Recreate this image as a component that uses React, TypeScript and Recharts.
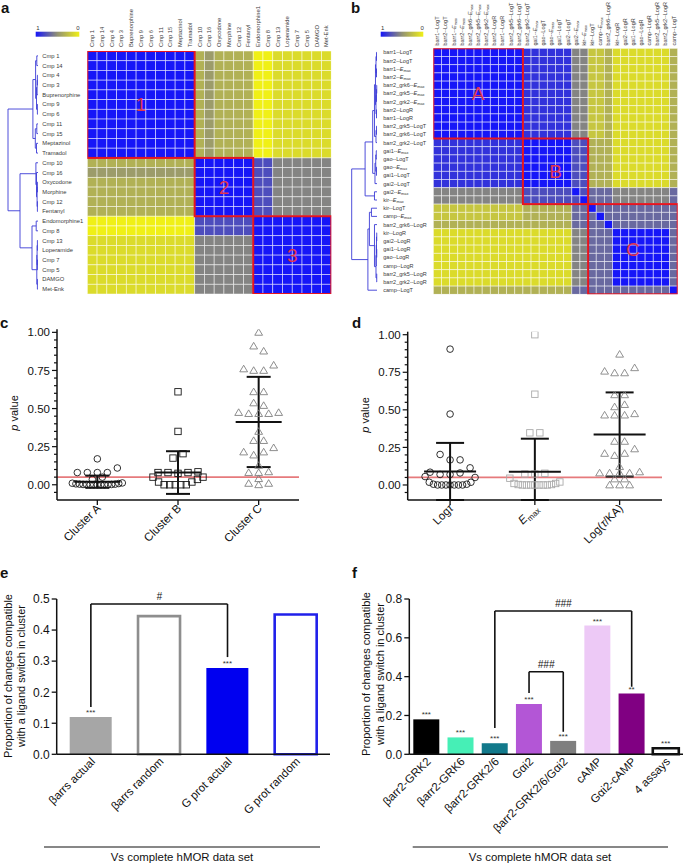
import React from "react";
import {
  ScatterChart,
  Scatter,
  XAxis,
  YAxis,
  ReferenceLine,
  ErrorBar,
  BarChart,
  Bar,
  Cell,
  LabelList,
} from "recharts";

const FONT = '"Liberation Sans", Arial, Helvetica, sans-serif';
const INK = "#111";

// ---------- panel a: compound similarity heatmap ----------
const A_LABELS = [
  "Cmp 1", "Cmp 14", "Cmp 4", "Cmp 3", "Buprenorphine", "Cmp 9", "Cmp 6", "Cmp 11",
  "Cmp 15", "Meptazinol", "Tramadol", "Cmp 10", "Cmp 16", "Oxycodone", "Morphine",
  "Cmp 12", "Fentanyl", "Endomorphine1", "Cmp 8", "Cmp 13", "Loperamide", "Cmp 7",
  "Cmp 5", "DAMGO", "Met-Enk",
];
// one string per row, one digit per cell: 9 = blue (1), 0 = yellow (0)
const A_MATRIX = [
  "9999999999934333300111111",
  "9999999999934333300111111",
  "9999999999934333300111111",
  "9999999999934333300111111",
  "9999999999934333300111111",
  "9999999999934333300111111",
  "9999999999934333300111111",
  "9999999999934333300111111",
  "9999999999934333300111111",
  "9999999999934333300111111",
  "9999999999934333300111111",
  "3333333333399999977555555",
  "4444444444499999977555555",
  "3333333333399999977555555",
  "3333333333399999977555555",
  "3333333333399999977555555",
  "3333333333399999977555555",
  "0000000000077777799999999",
  "0000000000077777799999999",
  "1111111111155555599999999",
  "1111111111155555599999999",
  "1111111111155555599999999",
  "1111111111155555599999999",
  "1111111111155555599999999",
  "1111111111155555599999999",
];
const A_BOXES = [
  { lo: 0, hi: 10, label: "1" },
  { lo: 11, hi: 16, label: "2" },
  { lo: 17, hi: 24, label: "3" },
];
// linkage: [left node, right node, height]; nodes >= 25 are earlier merges
const A_LINKAGE: [number, number, number][] = [
  [0, 1, 0.04], [2, 3, 0.02], [26, 4, 0.03], [5, 6, 0.02], [27, 28, 0.05],
  [25, 29, 0.08], [7, 8, 0.04], [9, 10, 0.05], [31, 32, 0.09], [30, 33, 0.17],
  [13, 14, 0.02], [15, 16, 0.02], [35, 36, 0.03], [12, 37, 0.05], [11, 38, 0.07],
  [17, 18, 0.06], [19, 20, 0.02], [21, 22, 0.02], [41, 42, 0.03], [23, 24, 0.02],
  [43, 44, 0.04], [40, 45, 0.2], [39, 46, 0.6], [34, 47, 1.0],
];

// ---------- panel b: assay similarity heatmap ----------
const B_LABELS = [
  "barr1--LogT", "barr2--LogT", "barr1--Emax", "barr2--Emax", "barr2_grk6--Emax",
  "barr2_grk5--Emax", "barr2_grk2--Emax", "barr2--LogR", "barr1--LogR",
  "barr2_grk5--LogT", "barr2_grk6--LogT", "barr2_grk2--LogT", "gai1--Emax",
  "gao--LogT", "gao--Emax", "gai1--LogT", "gai2--LogT", "gai2--Emax", "kir--Emax",
  "kir--LogT", "camp--Emax", "barr2_grk6--LogR", "kir--LogR", "gai2--LogR",
  "gai1--LogR", "gao--LogR", "camp--LogR", "barr2_grk5--LogR", "barr2_grk2--LogR",
  "camp--LogT",
];
const B_MATRIX = [
  "999999999998888885522311111113",
  "999999999998888885522311111113",
  "999999999998888885522311111113",
  "999999999998888885522311111113",
  "999999999998888885522311111113",
  "999999999998888885522311111113",
  "999999999998888885522311111113",
  "999999999998888885522311111113",
  "999999999998888885522311111113",
  "999999999998888885522311111113",
  "999999999998888885522311111113",
  "888888888889999997733311111113",
  "888888888889999997733311111113",
  "888888888889999997733311111113",
  "888888888889999997733311111113",
  "888888888889999997733311111113",
  "888888888889999997733311111113",
  "555555555557777779766655555556",
  "555555555557777777966655555556",
  "222222222223333336696666666666",
  "222222222223333336669666666666",
  "333333333333333336666966666666",
  "111111111111111115566699999996",
  "111111111111111115566699999996",
  "111111111111111115566699999996",
  "111111111111111115566699999996",
  "111111111111111115566699999996",
  "111111111111111115566699999996",
  "111111111111111115566699999996",
  "333333333333333336666666666669",
];
const B_BOXES = [
  { lo: 0, hi: 10, label: "A" },
  { lo: 11, hi: 18, label: "B" },
  { lo: 19, hi: 29, label: "C" },
];
const B_LINKAGE: [number, number, number][] = [
  [0, 1, 0.02], [2, 3, 0.02], [30, 31, 0.04], [4, 5, 0.01], [33, 6, 0.02],
  [7, 8, 0.02], [34, 35, 0.04], [32, 36, 0.06], [9, 10, 0.02], [38, 11, 0.04],
  [37, 39, 0.1], [12, 13, 0.03], [14, 15, 0.02], [41, 42, 0.05], [43, 16, 0.08],
  [40, 44, 0.17], [17, 18, 0.1], [45, 46, 0.47],
  [19, 20, 0.22], [22, 23, 0.01], [24, 25, 0.01], [49, 50, 0.02], [51, 26, 0.03],
  [27, 28, 0.01], [52, 53, 0.04], [21, 54, 0.1], [48, 55, 0.3], [56, 29, 0.36],
  [47, 57, 1.0],
];

// ---------- panels c & d: p values ----------
const C_GROUPS = ["Cluster A", "Cluster B", "Cluster C"];
// each inner list is one horizontal row of the swarm, left to right
const C_CLUSTER_A = [
  [0.17],
  [0.08, 0.08, 0.08, 0.08, 0.11],
  [0.035, 0.05],
  [0.01, 0.006, 0.004, 0.002, 0.001, 0, 0, 0, 0, 0, 0.001, 0.002, 0.004, 0.008, 0.012],
];
const C_CLUSTER_B = [
  [0.61],
  [0.35],
  [0.175, 0.204],
  [0.08, 0.08, 0.075, 0.08, 0.085],
  [0.05, 0.018, 0, 0, 0, 0, 0, 0.018, 0.035, 0.05],
];
const C_CLUSTER_C = [
  [1.0], [0.91, 0.877], [0.76, 0.75, 0.75, 0.785], [0.61, 0.61], [0.537, 0.52],
  [0.474, 0.467, 0.467, 0.467, 0.474], [0.35], [0.29, 0.29],
  [0.215, 0.195, 0.215, 0.243], [0.127], [0.08, 0.08, 0.085], [0.04], [0.009, 0, 0.009],
];
const C_MEAN = [0.02, 0.08, 0.412];
const C_SD = [0.04, 0.14, 0.296];

const D_GROUPS = ["Logτ", "Emax", "Log(τ/KA)"];
const D_LOGTAU = [
  [0.904],
  [0.472],
  [0.203, 0.167, 0.167],
  [0.085, 0.07, 0.07, 0.08, 0.114],
  [0.056, 0.018, 0.005, 0, 0, 0, 0, 0, 0, 0, 0.005, 0.018, 0.05],
];
const D_EMAX = [
  [1.0],
  [0.604],
  [0.347, 0.347],
  [0.073, 0.073, 0.078],
  [0.045, 0.01, 0.003, 0, 0, 0, 0, 0, 0, 0, 0.003, 0.01, 0.02],
];
const D_LOGTAUKA = [
  [0.87], [0.757, 0.746, 0.746, 0.78], [0.6, 0.6], [0.52, 0.535],
  [0.465, 0.465, 0.465, 0.474], [0.29, 0.29], [0.21, 0.196, 0.21, 0.24], [0.122],
  [0.08, 0.08, 0.08, 0.08, 0.087], [0.04, 0.04], [0, 0, 0],
];
const D_MEAN = [0.09, 0.088, 0.336];
const D_SD = [0.19, 0.22, 0.28];

const P_MAJOR = [0, 0.25, 0.5, 0.75, 1];
const P_THRESHOLD = 0.05;

// ---------- panels e & f: proportions ----------
const E_CATS = ["βarrs actual", "βarrs random", "G prot actual", "G prot random"];
const E_VALUES = [0.12, 0.445, 0.278, 0.45];
const E_STARS = ["***", "", "***", ""];
const E_TICKS = [0, 0.1, 0.2, 0.3, 0.4, 0.5];
const E_BRACKETS = [
  { from: "βarrs actual", to: "G prot actual", fromY: 0.152, toY: 0.313, top: 0.484, label: "#" },
];

const F_CATS = [
  "βarr2-GRK2", "βarr2-GRK6", "βarr2-GRK2/6", "Gαi2", "βarr2-GRK2/6/Gαi2",
  "cAMP", "Gαi2-cAMP", "4 assays",
];
const F_VALUES = [0.18, 0.087, 0.057, 0.259, 0.069, 0.663, 0.313, 0.031];
const F_STARS = ["***", "***", "***", "***", "***", "***", "**", "***"];
const F_TICKS = [0, 0.2, 0.4, 0.6, 0.8];
const F_BRACKETS = [
  { from: "Gαi2", to: "βarr2-GRK2/6/Gαi2", fromY: 0.316, toY: 0.116, top: 0.425, label: "###" },
  { from: "βarr2-GRK2/6", to: "Gαi2-cAMP", fromY: 0.135, toY: 0.348, top: 0.738, label: "###" },
];

// styles
const E_FILL = ["#a6a6a6", "#ffffff", "#0000f0", "#ffffff"];
const E_STROKE = ["none", "#8e8e8e", "none", "#2020ea"];
const F_FILL = ["#000000", "#46efb6", "#12798b", "#b356d6", "#7f7f7f", "#edc9f6", "#800082", "#ffffff"];
const F_STROKE = ["none", "none", "none", "none", "none", "none", "none", "#111111"];

// ---------- helpers ----------
const YEL = [240, 240, 22];
const MID = [146, 146, 116];
const BLU = [22, 22, 248];
const heatColor = (level: number) => {
  const v = level / 9;
  const [from, to, t] = v < 0.5 ? [YEL, MID, v / 0.5] : [MID, BLU, (v - 0.5) / 0.5];
  const c = (from as number[]).map((f, i) => Math.round(f + ((to as number[])[i] - f) * (t as number)));
  return `rgb(${c.join(",")})`;
};

const renderAssay = (s: string, fs: number) => {
  const [pre, suf] = s.split("--");
  if (suf === "Emax")
    return (
      <>
        {pre}--<tspan fontStyle="italic">E</tspan>
        <tspan fontSize={fs * 0.7} dy={fs * 0.2}>max</tspan>
      </>
    );
  return s;
};

function dendroSegments(n: number, linkage: [number, number, number][]) {
  const pos: number[] = [];
  const hs: number[] = [];
  for (let i = 0; i < n; i++) {
    pos[i] = i;
    hs[i] = 0;
  }
  const segs: { x: number; y: number }[][] = [];
  linkage.forEach(([a, b, h], k) => {
    const id = n + k;
    pos[id] = (pos[a] + pos[b]) / 2;
    hs[id] = h;
    segs.push([{ x: hs[a], y: pos[a] }, { x: h, y: pos[a] }]);
    segs.push([{ x: hs[b], y: pos[b] }, { x: h, y: pos[b] }]);
    segs.push([{ x: h, y: pos[a] }, { x: h, y: pos[b] }]);
  });
  return segs;
}

function Dendrogram({ n, linkage, width, height, margin }: any) {
  const segs = dendroSegments(n, linkage);
  const leaves = Array.from({ length: n }, (_, i) => ({ h: 0, y: i }));
  return (
    <ScatterChart width={width} height={height} margin={margin}>
      <XAxis type="number" dataKey="h" domain={[0, 1]} reversed hide allowDataOverflow />
      <YAxis type="number" dataKey="y" domain={[-0.5, n - 0.5]} reversed hide allowDataOverflow />
      <Scatter data={leaves} shape={() => <g />} isAnimationActive={false} />
      {segs.map((s, i) => (
        <ReferenceLine key={i} segment={s} stroke="#3b3bd6" strokeWidth={0.9} ifOverflow="visible" />
      ))}
    </ScatterChart>
  );
}

function Heatmap({ labels, matrix, boxes, width, height, left, top, right, bottom, rowLabelX, colLabelBottom, fs, assay }: any) {
  const n = labels.length;
  const cw = (width - left - right) / n;
  const ch = (height - top - bottom) / n;
  const cells = matrix.flatMap((row: string, r: number) =>
    row.split("").map((d, c) => ({ r, c, level: Number(d) }))
  );
  const boxData = boxes.map((b: any) => ({
    r: (b.lo + b.hi) / 2,
    c: (b.lo + b.hi) / 2,
    span: b.hi - b.lo + 1,
    label: b.label,
  }));
  const idx = labels.map((_: string, i: number) => i);
  const txt = (s: string) => (assay ? renderAssay(s, fs) : s);
  return (
    <ScatterChart width={width} height={height} margin={{ top: 0, left: 0, right, bottom }}>
      <XAxis
        type="number"
        dataKey="c"
        orientation="top"
        domain={[-0.5, n - 0.5]}
        ticks={idx}
        interval={0}
        height={top}
        axisLine={false}
        tickLine={false}
        tickSize={0}
        tickMargin={0}
        allowDataOverflow
        tick={(p: any) => (
          <text
            transform={`translate(${p.x + fs * 0.35},${colLabelBottom}) rotate(-90)`}
            fontSize={fs}
            fill="#3a3a3a"
            textAnchor="start"
          >
            {txt(labels[p.payload.value])}
          </text>
        )}
      />
      <YAxis
        type="number"
        dataKey="r"
        domain={[-0.5, n - 0.5]}
        reversed
        ticks={idx}
        interval={0}
        width={left}
        axisLine={false}
        tickLine={false}
        tickSize={0}
        tickMargin={0}
        allowDataOverflow
        tick={(p: any) => (
          <text x={rowLabelX} y={p.y + fs * 0.35} fontSize={fs} fill="#3a3a3a" textAnchor="start">
            {txt(labels[p.payload.value])}
          </text>
        )}
      />
      <Scatter
        data={cells}
        isAnimationActive={false}
        shape={(p: any) => (
          <rect
            x={p.cx - cw / 2}
            y={p.cy - ch / 2}
            width={cw}
            height={ch}
            fill={heatColor(p.payload.level)}
            stroke="#ffffff"
            strokeOpacity={0.6}
            strokeWidth={0.8}
          />
        )}
      />
      <Scatter
        data={boxData}
        isAnimationActive={false}
        shape={(p: any) => (
          <g>
            <rect
              x={p.cx - (p.payload.span * cw) / 2}
              y={p.cy - (p.payload.span * ch) / 2}
              width={p.payload.span * cw}
              height={p.payload.span * ch}
              fill="none"
              stroke="#e6141f"
              strokeWidth={2}
            />
            <text x={p.cx} y={p.cy} textAnchor="middle" dominantBaseline="central" fontSize={19} fill="#e2354e">
              {p.payload.label}
            </text>
          </g>
        )}
      />
    </ScatterChart>
  );
}

const SWARM_STEP = 10;
const SWARM_MAX = 50;
function swarm(groups: number[][][], pxPerUnit: number) {
  return groups.map((rows, g) =>
    rows.flatMap((row) => {
      const n = row.length;
      const sp = n > 1 ? Math.min(SWARM_STEP, SWARM_MAX / (n - 1)) : 0;
      return row.map((v, i) => ({ x: g + 0.5 + ((i - (n - 1) / 2) * sp) / pxPerUnit, y: v }));
    })
  );
}

const marker = (kind: string, color: string) => (p: any) => {
  const { cx, cy } = p;
  if (kind === "circle") return <circle cx={cx} cy={cy} r={3.3} fill="none" stroke={color} strokeWidth={0.9} />;
  if (kind === "square")
    return <rect x={cx - 3.2} y={cy - 3.2} width={6.4} height={6.4} fill="none" stroke={color} strokeWidth={0.9} />;
  return (
    <path
      d={`M${cx},${cy - 3.7}L${cx + 3.9},${cy + 2.9}L${cx - 3.9},${cy + 2.9}Z`}
      fill="none"
      stroke={color}
      strokeWidth={0.9}
    />
  );
};

const P_MIN = -0.1;
const P_MAX = 1.02;
const P_TICKS = Array.from({ length: 22 }, (_, i) => Math.round((i - 1) * 5) / 100);

const pTick = (p: any) => {
  const v = p.payload.value;
  const major = P_MAJOR.some((m) => Math.abs(m - v) < 1e-6);
  return (
    <g>
      <line x1={p.x - (major ? 5 : 3)} x2={p.x} y1={p.y} y2={p.y} stroke={INK} strokeWidth={1.2} />
      {major && (
        <text x={p.x - 7} y={p.y} dy="0.36em" textAnchor="end" fontSize={11.5} fill={INK}>
          {v.toFixed(2)}
        </text>
      )}
    </g>
  );
};

function PValuePanel({ width, height, margin, yWidth, groups, series, kinds, colors, means, sds, meanHalf, capHalf, renderLabel }: any) {
  const plotW = width - margin.left - margin.right - yWidth;
  const pts = swarm(series, plotW / groups.length);
  const summary = means.map((m: number, g: number) => ({
    x: g + 0.5,
    y: m,
    err: [m - Math.max(m - sds[g], P_MIN), sds[g]],
  }));
  return (
    <ScatterChart width={width} height={height} margin={margin}>
      <XAxis
        type="number"
        dataKey="x"
        domain={[0, groups.length]}
        ticks={groups.map((_: string, i: number) => i + 0.5)}
        interval={0}
        height={60}
        allowDataOverflow
        axisLine={{ stroke: INK, strokeWidth: 1.5 }}
        tickLine={false}
        tickSize={0}
        tickMargin={0}
        tick={(p: any) => (
          <g>
            <line x1={p.x} x2={p.x} y1={p.y} y2={p.y + 5} stroke={INK} strokeWidth={1.3} />
            <text
              transform={`translate(${p.x + 4},${p.y + 9}) rotate(-45)`}
              textAnchor="end"
              fontSize={11.5}
              fill={INK}
            >
              {renderLabel(groups[Math.floor(p.payload.value)])}
            </text>
          </g>
        )}
      />
      <YAxis
        type="number"
        dataKey="y"
        domain={[P_MIN, P_MAX]}
        ticks={P_TICKS}
        interval={0}
        width={yWidth}
        allowDataOverflow
        axisLine={{ stroke: INK, strokeWidth: 1.5 }}
        tickLine={false}
        tickSize={0}
        tickMargin={0}
        tick={pTick}
      />
      {pts.map((d: any, g: number) => (
        <Scatter key={g} data={d} shape={marker(kinds[g], colors[g])} isAnimationActive={false} />
      ))}
      <ReferenceLine y={P_THRESHOLD} stroke="#e67a7c" strokeWidth={1.8} />
      <Scatter
        data={summary}
        isAnimationActive={false}
        shape={(p: any) => (
          <line x1={p.cx - meanHalf} x2={p.cx + meanHalf} y1={p.cy} y2={p.cy} stroke={INK} strokeWidth={2} />
        )}
      >
        <ErrorBar dataKey="err" direction="y" width={capHalf} stroke={INK} strokeWidth={2} />
      </Scatter>
    </ScatterChart>
  );
}

const renderD = (s: string) => {
  if (s === "Emax")
    return (
      <>
        <tspan fontStyle="italic">E</tspan>
        <tspan fontSize={8} dy={3}>max</tspan>
      </>
    );
  if (s === "Logτ")
    return (
      <>
        Log<tspan fontStyle="italic">τ</tspan>
      </>
    );
  return (
    <>
      Log(<tspan fontStyle="italic">τ</tspan>/KA)
    </>
  );
};

function ProportionPanel({ width, height, margin, yWidth, cats, values, stars, fills, strokes, ticks, brackets, barSize }: any) {
  const data = cats.map((name: string, i: number) => ({ name, value: values[i], stars: stars[i] }));
  return (
    <BarChart width={width} height={height} data={data} margin={margin}>
      <XAxis
        dataKey="name"
        height={60}
        interval={0}
        axisLine={{ stroke: INK, strokeWidth: 1.5 }}
        tickLine={false}
        tickSize={0}
        tickMargin={0}
        tick={(p: any) => (
          <text
            transform={`translate(${p.x + 5},${p.y + 8}) rotate(-45)`}
            textAnchor="end"
            fontSize={11.5}
            fill={INK}
          >
            {p.payload.value}
          </text>
        )}
      />
      <YAxis
        type="number"
        domain={[ticks[0], ticks[ticks.length - 1]]}
        ticks={ticks}
        interval={0}
        width={yWidth}
        axisLine={{ stroke: INK, strokeWidth: 1.5 }}
        tickLine={false}
        tickSize={0}
        tickMargin={0}
        tick={(p: any) => (
          <g>
            <line x1={p.x - 5} x2={p.x} y1={p.y} y2={p.y} stroke={INK} strokeWidth={1.3} />
            <text x={p.x - 7} y={p.y} dy="0.36em" textAnchor="end" fontSize={12} fill={INK}>
              {p.payload.value.toFixed(1)}
            </text>
          </g>
        )}
      />
      <Bar dataKey="value" barSize={barSize} isAnimationActive={false}>
        {cats.map((c: string, i: number) => (
          <Cell key={c} fill={fills[i]} stroke={strokes[i]} strokeWidth={2.6} />
        ))}
        <LabelList dataKey="stars" position="top" offset={2} fontSize={8} fill="#333" />
      </Bar>
      {brackets.flatMap((b: any, i: number) => [
        <ReferenceLine
          key={`l${i}`}
          segment={[{ x: b.from, y: b.fromY }, { x: b.from, y: b.top }]}
          stroke={INK}
          strokeWidth={1.6}
        />,
        <ReferenceLine
          key={`t${i}`}
          segment={[{ x: b.from, y: b.top }, { x: b.to, y: b.top }]}
          stroke={INK}
          strokeWidth={1.6}
          label={{ value: b.label, position: "top", fontSize: 10, fill: INK, fontStyle: "italic", offset: 4 }}
        />,
        <ReferenceLine
          key={`r${i}`}
          segment={[{ x: b.to, y: b.top }, { x: b.to, y: b.toY }]}
          stroke={INK}
          strokeWidth={1.6}
        />,
      ])}
    </BarChart>
  );
}

const Pane = ({ left, top, children }: any) => (
  <div style={{ position: "absolute", left, top }}>{children}</div>
);

export default function App() {
  return (
    <div
      style={{
        position: "absolute",
        left: 0,
        top: 0,
        width: 687,
        height: 866,
        background: "#fff",
        fontFamily: FONT,
        color: INK,
        overflow: "hidden",
      }}
    >
      <Pane left={0} top={0}>
        <Dendrogram n={25} linkage={A_LINKAGE} width={40} height={300} margin={{ top: 51, bottom: 6, left: 8, right: 2 }} />
      </Pane>
      <Pane left={0} top={0}>
        <Heatmap
          labels={A_LABELS}
          matrix={A_MATRIX}
          boxes={A_BOXES}
          width={340}
          height={300}
          left={87.3}
          top={51}
          right={8.7}
          bottom={6}
          rowLabelX={42.3}
          colLabelBottom={47}
          fs={5.8}
        />
      </Pane>
      <Pane left={340} top={0}>
        <Dendrogram n={30} linkage={B_LINKAGE} width={40} height={300} margin={{ top: 48.3, bottom: 5.7, left: 11.7, right: 3 }} />
      </Pane>
      <Pane left={340} top={0}>
        <Heatmap
          labels={B_LABELS}
          matrix={B_MATRIX}
          boxes={B_BOXES}
          width={347}
          height={300}
          left={93.3}
          top={48.3}
          right={9.3}
          bottom={5.7}
          rowLabelX={43.3}
          colLabelBottom={45.5}
          fs={5.5}
          assay
        />
      </Pane>
      <Pane left={0} top={300}>
        <PValuePanel
          width={340}
          height={260}
          margin={{ top: 29.3, right: 41, bottom: 0, left: 0 }}
          yWidth={57}
          groups={C_GROUPS}
          series={[C_CLUSTER_A, C_CLUSTER_B, C_CLUSTER_C]}
          kinds={["circle", "square", "triangle"]}
          colors={["#1a1a1a", "#1a1a1a", "#808080"]}
          means={C_MEAN}
          sds={C_SD}
          meanHalf={23}
          capHalf={12}
          renderLabel={(s: string) => s}
        />
      </Pane>
      <Pane left={340} top={300}>
        <PValuePanel
          width={347}
          height={260}
          margin={{ top: 31.7, right: 25, bottom: 0, left: 0 }}
          yWidth={67.7}
          groups={D_GROUPS}
          series={[D_LOGTAU, D_EMAX, D_LOGTAUKA]}
          kinds={["circle", "square", "triangle"]}
          colors={["#1a1a1a", "#ababab", "#858585"]}
          means={D_MEAN}
          sds={D_SD}
          meanHalf={26}
          capHalf={14}
          renderLabel={renderD}
        />
      </Pane>
      <Pane left={0} top={560}>
        <ProportionPanel
          width={340}
          height={306}
          margin={{ top: 39, right: 10, bottom: 51.7, left: 0 }}
          yWidth={56.7}
          cats={E_CATS}
          values={E_VALUES}
          stars={E_STARS}
          fills={E_FILL}
          strokes={E_STROKE}
          ticks={E_TICKS}
          brackets={E_BRACKETS}
          barSize={42}
        />
      </Pane>
      <Pane left={340} top={560}>
        <ProportionPanel
          width={347}
          height={306}
          margin={{ top: 39, right: 4, bottom: 51.7, left: 0 }}
          yWidth={69.3}
          cats={F_CATS}
          values={F_VALUES}
          stars={F_STARS}
          fills={F_FILL}
          strokes={F_STROKE}
          ticks={F_TICKS}
          brackets={F_BRACKETS}
          barSize={26}
        />
      </Pane>

      <svg
        width={687}
        height={866}
        style={{ position: "absolute", left: 0, top: 0, pointerEvents: "none" }}
        fontFamily={FONT}
      >
        <defs>
          <linearGradient id="cbar" x1="0" x2="1" y1="0" y2="0">
            <stop offset="0" stopColor="rgb(22,22,248)" />
            <stop offset="0.5" stopColor="rgb(146,146,116)" />
            <stop offset="1" stopColor="rgb(240,240,22)" />
          </linearGradient>
        </defs>
        <g fontWeight="bold" fontSize={15} fill={INK}>
          <text x={1} y={13}>a</text>
          <text x={351} y={13}>b</text>
          <text x={0} y={328}>c</text>
          <text x={352} y={328}>d</text>
          <text x={0} y={578}>e</text>
          <text x={352} y={578}>f</text>
        </g>
        <rect x={35.7} y={31.7} width={43.6} height={5} fill="url(#cbar)" />
        <rect x={380.7} y={31.7} width={42.6} height={5} fill="url(#cbar)" />
        <g fontSize={6} fill="#333">
          <text x={36.3} y={29.5}>1</text>
          <text x={76.3} y={29.5}>0</text>
          <text x={381} y={29.5}>1</text>
          <text x={420.5} y={29.5}>0</text>
        </g>
        <g fontSize={11} fill={INK} textAnchor="middle">
          <text transform="translate(18,413) rotate(-90)">
            <tspan fontStyle="italic">p</tspan> value
          </text>
          <text transform="translate(369,415) rotate(-90)">
            <tspan fontStyle="italic">p</tspan> value
          </text>
          <text transform="translate(11.5,676) rotate(-90)">Proportion of changes compatible</text>
          <text transform="translate(25,676) rotate(-90)">with a ligand switch in cluster</text>
          <text transform="translate(370,674) rotate(-90)">Proportion of changes compatible</text>
          <text transform="translate(383.5,674) rotate(-90)">with a ligand switch in cluster</text>
        </g>
        <line x1={44} x2={320} y1={847} y2={847} stroke={INK} strokeWidth={1.2} />
        <line x1={412.7} x2={668} y1={847} y2={847} stroke={INK} strokeWidth={1.2} />
        <g fontSize={11.4} fill={INK} textAnchor="middle">
          <text x={182} y={861}>Vs complete hMOR data set</text>
          <text x={540} y={861}>Vs complete hMOR data set</text>
        </g>
      </svg>
    </div>
  );
}
